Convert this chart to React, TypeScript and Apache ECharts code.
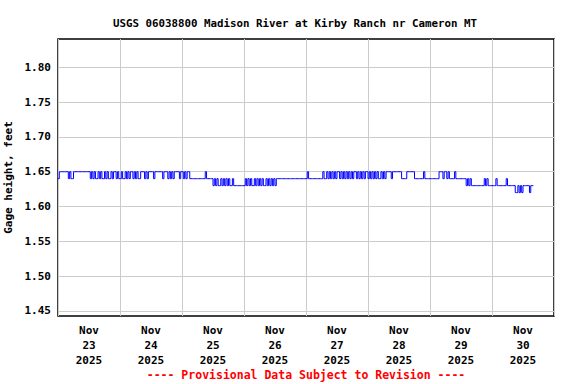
import { useEffect, useRef } from "react";
import * as echarts from "echarts";

const chartTitle = "USGS 06038800 Madison River at Kirby Ranch nr Cameron MT";
const footerText = "---- Provisional Data Subject to Revision ----";
const yAxisName = "Gage height, feet";
const monthLabel = "Nov";
const yearLabel = "2025";
const dayNumbers = ["23", "24", "25", "26", "27", "28", "29", "30"];
const yTickValues = [1.45, 1.5, 1.55, 1.6, 1.65, 1.7, 1.75, 1.8];
const xLabelHours = [12, 36, 60, 84, 108, 132, 156, 180];

// gage-height codes: 2 = 1.62 ft, 3 = 1.63 ft, 4 = 1.64 ft, 5 = 1.65 ft
const levelFeet: Record<string, number> = { "2": 1.62, "3": 1.63, "4": 1.64, "5": 1.65 };

// half-hourly readings, one string per day
const nov23 = ["4555555545445555555555555", "454544545445454454", "55", "454"].join("");
const nov24 = ["4544", "5", "454", "55", "4545445", "55", "454", "5555", "45", "55555", "45", "55", "454545", "555", "45"].join("");
const nov25 = ["5454", "55", "444444444444", "5", "44444", "34343343434343343", "3333333"].join("");
const nov26 = ["343434334343434334343434344", "444444444444444444444"].join("");
const nov27 = ["4", "5", "4444444444", "4544545", "45454554545454545455454545455"].join("");
const nov28 = ["454545454454545", "555", "4", "5555555", "4444", "555555", "4444444", "5", "4444"].join("");
const nov29 = ["4444444", "555", "45545", "4444", "5", "44444444", "34343", "333333333", "4343", "33"].join("");
const nov30 = ["333", "4", "3333333", "4", "333333", "2232", "3", "2", "33333", "2", "333"].join("");
const dailyReadings = [nov23, nov24, nov25, nov26, nov27, nov28, nov29, nov30];

const MONO = "'DejaVu Sans Mono', 'Liberation Mono', monospace";

export default function App() {
  const ref = useRef<HTMLDivElement>(null);
  useEffect(() => {
    if (!ref.current) return;
    const chart = echarts.init(ref.current, null, { renderer: "svg" });
    const data: [number, number][] = [];
    dailyReadings.forEach((day, d) => {
      for (let i = 0; i < day.length; i++) {
        data.push([d * 24 + i * 0.5, levelFeet[day[i]]]);
      }
    });
    chart.setOption({
      animation: false,
      backgroundColor: "#ffffff",
      title: {
        text: chartTitle,
        left: 290,
        top: 13,
        textAlign: "center",
        textStyle: { fontFamily: MONO, fontSize: 10.8, fontWeight: "bold", color: "#000" },
      },
      graphic: [
        {
          type: "text",
          x: 306,
          y: 375,
          style: {
            text: footerText,
            fill: "#ff0000",
            font: `bold 11.5px ${MONO}`,
            textAlign: "center",
            textVerticalAlign: "middle",
          },
        },
      ],
      grid: {
        left: 58,
        right: 22,
        top: 39,
        bottom: 68,
        show: true,
        borderColor: "#000",
        borderWidth: 1.5,
        backgroundColor: "transparent",
        containLabel: false,
        outerBoundsMode: "none",
      },
      xAxis: {
        type: "value",
        min: 0,
        max: 192,
        interval: 24,
        axisLine: { show: false },
        axisTick: { show: false },
        splitLine: { show: true, lineStyle: { color: "#cccccc", width: 1 } },
        axisLabel: {
          customValues: xLabelHours,
          margin: 7,
          lineHeight: 15,
          fontFamily: MONO,
          fontSize: 11,
          fontWeight: "bold",
          color: "#000",
          formatter: (v: number) => `${monthLabel}\n${dayNumbers[Math.floor(v / 24)]}\n${yearLabel}`,
        },
      },
      yAxis: {
        type: "value",
        min: 1.4427,
        max: 1.8407,
        name: yAxisName,
        nameLocation: "middle",
        nameRotate: 90,
        nameGap: 38,
        nameTextStyle: { fontFamily: MONO, fontSize: 11, fontWeight: "bold", color: "#000" },
        axisLine: { show: false },
        axisTick: { show: false, customValues: yTickValues },
        splitLine: { show: true, lineStyle: { color: "#cccccc", width: 1 } },
        axisLabel: {
          customValues: yTickValues,
          margin: 7,
          fontFamily: MONO,
          fontSize: 11,
          fontWeight: "bold",
          color: "#000",
          formatter: (v: number) => v.toFixed(2),
        },
      },
      series: [
        {
          type: "line",
          data,
          step: "end",
          symbol: "none",
          lineStyle: { color: "#0000ff", width: 1 },
        },
      ],
    });
    return () => chart.dispose();
  }, []);
  return (
    <div
      ref={ref}
      style={{ position: "fixed", left: 0, top: 0, width: 576, height: 384, background: "#fff" }}
    />
  );
}
